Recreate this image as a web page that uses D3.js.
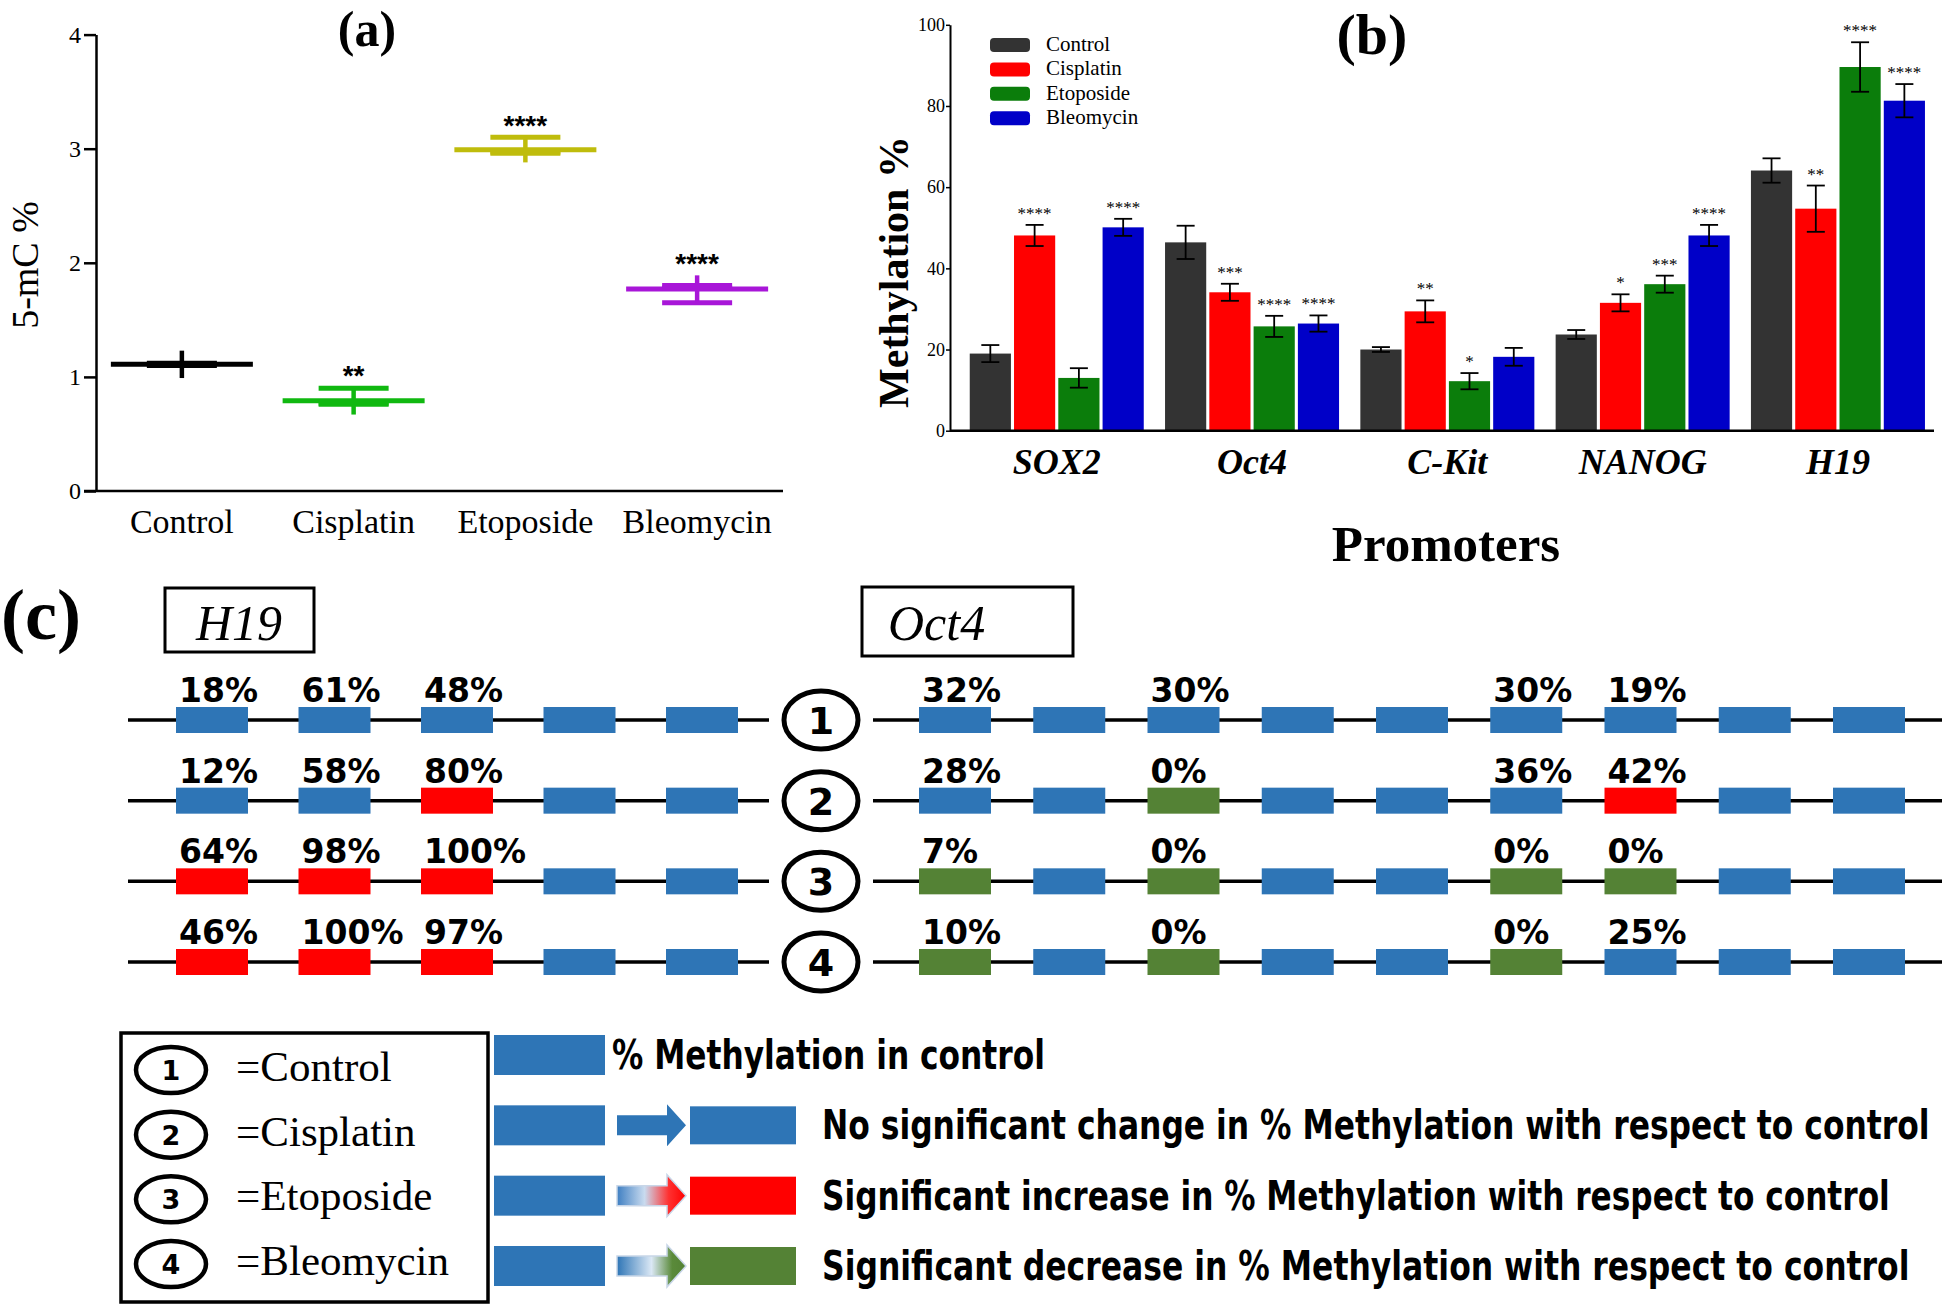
<!DOCTYPE html>
<html>
<head>
<meta charset="utf-8">
<script src="https://d3js.org/d3.v7.min.js"></script>
<style>
  body { margin: 0; background: #fff; }
  svg { display: block; }
</style>
</head>
<body>
<script>
// ---------- data: panel (a) 5-mC %
let groupsA = ["Control", "Cisplatin", "Etoposide", "Bleomycin"];
let meanA = [1.11, 0.79, 2.99, 1.77];
let sdA = [0.12, 0.12, 0.11, 0.12];
let repsA = [[1.12, 1.11, 1.10], [0.90, 0.77, 0.76], [3.10, 2.97, 2.96], [1.80, 1.78, 1.65]];
let starsA = ["", "**", "****", "****"];
let colorsA = ["#000000", "#10b810", "#bfbc0c", "#a816d8"];
let ticksA = [0, 1, 2, 3, 4];

// ---------- data: panel (b) methylation % of promoters
let promoters = ["SOX2", "Oct4", "C-Kit", "NANOG", "H19"];
let treatments = ["Control", "Cisplatin", "Etoposide", "Bleomycin"];
let methControl   = [19.0, 46.4, 20.0, 23.7, 64.1];
let methCisplatin = [48.1, 34.1, 29.4, 31.5, 54.7];
let methEtoposide = [13.0, 25.7, 12.2, 36.1, 89.6];
let methBleomycin = [50.1, 26.4, 18.2, 48.1, 81.3];
let errControl   = [2.1, 4.1, 0.6, 1.1, 3.0];
let errCisplatin = [2.6, 2.1, 2.7, 2.1, 5.7];
let errEtoposide = [2.4, 2.6, 2.0, 2.1, 6.1];
let errBleomycin = [2.1, 2.0, 2.2, 2.6, 4.1];
let starsControl   = ["", "", "", "", ""];
let starsCisplatin = ["****", "***", "**", "*", "**"];
let starsEtoposide = ["", "****", "*", "***", "****"];
let starsBleomycin = ["****", "****", "", "****", "****"];
let colorsB = ["#333333", "#ff0000", "#0b7d0b", "#0000c8"];
let ticksB = [0, 20, 40, 60, 80, 100];

// ---------- data: panel (c) CpG maps
let rowNumbers = ["1", "2", "3", "4"];
let h19Labels = [
  ["18%", "61%", "48%", "", ""],
  ["12%", "58%", "80%", "", ""],
  ["64%", "98%", "100%", "", ""],
  ["46%", "100%", "97%", "", ""]
];
let h19Status = [
  ["n", "n", "n", "n", "n"],
  ["n", "n", "up", "n", "n"],
  ["up", "up", "up", "n", "n"],
  ["up", "up", "up", "n", "n"]
];
let oct4Labels = [
  ["32%", "", "30%", "", "", "30%", "19%", "", ""],
  ["28%", "", "0%", "", "", "36%", "42%", "", ""],
  ["7%", "", "0%", "", "", "0%", "0%", "", ""],
  ["10%", "", "0%", "", "", "0%", "25%", "", ""]
];
let oct4Status = [
  ["n", "n", "n", "n", "n", "n", "n", "n", "n"],
  ["n", "n", "down", "n", "n", "n", "up", "n", "n"],
  ["down", "n", "down", "n", "n", "down", "down", "n", "n"],
  ["down", "n", "down", "n", "n", "down", "n", "n", "n"]
];
let keyStatus = ["ctrl", "n", "up", "down"];
let keyTexts = [
  "% Methylation in control",
  "No significant change in % Methylation with respect to control",
  "Significant increase in % Methylation with respect to control",
  "Significant decrease in % Methylation with respect to control"
];
let statusColor = { n: "#2e75b6", ctrl: "#2e75b6", up: "#ff0000", down: "#548235" };

const serif = "'Liberation Serif', 'Times New Roman', serif";
const sans = "'DejaVu Sans', 'Liberation Sans', sans-serif";

let svg = d3.select("body").append("svg")
    .attr("width", 1946)
    .attr("height", 1304);

// ================= panel (a) =================
let yA = d3.scaleLinear().domain([0, 4]).range([491, 34.6]);
let xA = d3.scaleBand().domain(groupsA).range([96, 783]);

let gA = svg.append("g");
let axA = gA.append("g")
    .attr("transform", "translate(96,0)")
    .call(d3.axisLeft(yA).tickValues(ticksA).tickFormat(d3.format("d")).tickSize(12).tickSizeOuter(0).tickPadding(3));
axA.select(".domain").attr("stroke-width", 2.5);
axA.selectAll(".tick line").attr("stroke-width", 2.5);
axA.selectAll(".tick text").style("font-family", serif).style("font-size", "24px").attr("fill", "#000");

gA.append("line")
    .attr("x1", 84).attr("x2", 783)
    .attr("y1", yA(0)).attr("y2", yA(0))
    .attr("stroke", "#000").attr("stroke-width", 2.5);

gA.selectAll(".catA")
    .data(groupsA)
    .join("text")
    .attr("x", d => xA(d) + xA.bandwidth() / 2)
    .attr("y", 533)
    .attr("text-anchor", "middle")
    .style("font-family", serif).style("font-size", "34px")
    .text(d => d);

groupsA.forEach((g, i) => {
    let cx = xA(g) + xA.bandwidth() / 2;
    let col = colorsA[i];
    gA.append("line")
        .attr("x1", cx).attr("x2", cx)
        .attr("y1", yA(meanA[i] - sdA[i])).attr("y2", yA(meanA[i] + sdA[i]))
        .attr("stroke", col).attr("stroke-width", 4.5);
    gA.append("line")
        .attr("x1", cx - 71).attr("x2", cx + 71)
        .attr("y1", yA(meanA[i])).attr("y2", yA(meanA[i]))
        .attr("stroke", col).attr("stroke-width", 5);
    repsA[i].forEach(v => {
        gA.append("line")
            .attr("x1", cx - 35).attr("x2", cx + 35)
            .attr("y1", yA(v)).attr("y2", yA(v))
            .attr("stroke", col).attr("stroke-width", 5);
    });
    if (starsA[i]) {
        gA.append("text")
            .attr("x", cx).attr("y", yA(meanA[i] + sdA[i]) - 2)
            .attr("text-anchor", "middle")
            .style("font-family", "'Liberation Sans', Arial, sans-serif")
            .style("font-size", "28px").style("font-weight", "bold")
            .text(starsA[i]);
    }
});

gA.append("text")
    .attr("x", 367).attr("y", 46)
    .attr("text-anchor", "middle")
    .style("font-family", serif).style("font-size", "50px").style("font-weight", "bold")
    .text("(a)");

gA.append("text")
    .attr("transform", "translate(38,265) rotate(-90)")
    .attr("text-anchor", "middle")
    .style("font-family", serif).style("font-size", "38px")
    .text("5-mC %");

// ================= panel (b) =================
let yB = d3.scaleLinear().domain([0, 100]).range([430.7, 24.8]);
let x0 = d3.scaleBand().domain(promoters).range([959, 1935.7]).paddingInner(0.109).paddingOuter(0.055);
let x1 = d3.scaleBand().domain(treatments).range([0, x0.bandwidth()]).paddingInner(0.07);

let seriesB = [
    { name: "Control", vals: methControl, err: errControl, stars: starsControl },
    { name: "Cisplatin", vals: methCisplatin, err: errCisplatin, stars: starsCisplatin },
    { name: "Etoposide", vals: methEtoposide, err: errEtoposide, stars: starsEtoposide },
    { name: "Bleomycin", vals: methBleomycin, err: errBleomycin, stars: starsBleomycin }
];

let gB = svg.append("g");
seriesB.forEach((s, si) => {
    promoters.forEach((p, pi) => {
        let x = x0(p) + x1(s.name);
        let cx = x + x1.bandwidth() / 2;
        let v = s.vals[pi], e = s.err[pi];
        gB.append("rect")
            .attr("x", x).attr("y", yB(v))
            .attr("width", x1.bandwidth()).attr("height", yB(0) - yB(v))
            .attr("fill", colorsB[si]);
        gB.append("line")
            .attr("x1", cx).attr("x2", cx)
            .attr("y1", yB(v - e)).attr("y2", yB(v + e))
            .attr("stroke", "#000").attr("stroke-width", 1.8);
        [v - e, v + e].forEach(t => {
            gB.append("line")
                .attr("x1", cx - 9).attr("x2", cx + 9)
                .attr("y1", yB(t)).attr("y2", yB(t))
                .attr("stroke", "#000").attr("stroke-width", 1.8);
        });
        if (s.stars[pi]) {
            gB.append("text")
                .attr("x", cx).attr("y", yB(v + e) - 6)
                .attr("text-anchor", "middle")
                .style("font-family", serif).style("font-size", "17px")
                .text(s.stars[pi]);
        }
    });
});

let axB = gB.append("g")
    .attr("transform", "translate(950,0)")
    .call(d3.axisLeft(yB).tickValues(ticksB).tickSize(4).tickSizeOuter(0).tickPadding(1));
axB.select(".domain").attr("stroke-width", 2);
axB.selectAll(".tick line").attr("stroke-width", 1.5);
axB.selectAll(".tick text").style("font-family", serif).style("font-size", "18px").attr("fill", "#000");

gB.append("line")
    .attr("x1", 950).attr("x2", 1934)
    .attr("y1", yB(0)).attr("y2", yB(0))
    .attr("stroke", "#000").attr("stroke-width", 2.5);

gB.selectAll(".catB")
    .data(promoters)
    .join("text")
    .attr("x", d => x0(d) + x0.bandwidth() / 2)
    .attr("y", 474)
    .attr("text-anchor", "middle")
    .style("font-family", serif).style("font-size", "36px")
    .style("font-weight", "bold").style("font-style", "italic")
    .text(d => d);

gB.append("text")
    .attr("x", 1446).attr("y", 561)
    .attr("text-anchor", "middle")
    .style("font-family", serif).style("font-size", "51px").style("font-weight", "bold")
    .text("Promoters");

gB.append("text")
    .attr("transform", "translate(908,272) rotate(-90)")
    .attr("text-anchor", "middle")
    .style("font-family", serif).style("font-size", "42px").style("font-weight", "bold")
    .text("Methylation %");

gB.append("text")
    .attr("x", 1372).attr("y", 54)
    .attr("text-anchor", "middle")
    .style("font-family", serif).style("font-size", "58px").style("font-weight", "bold")
    .text("(b)");

let legB = gB.selectAll(".legB")
    .data(treatments)
    .join("g")
    .attr("transform", (d, i) => "translate(990," + (38 + i * 24.4) + ")");
legB.append("rect")
    .attr("width", 40).attr("height", 14).attr("rx", 4)
    .attr("fill", (d, i) => colorsB[i]);
legB.append("text")
    .attr("x", 56).attr("y", 13)
    .style("font-family", serif).style("font-size", "21px")
    .text(d => d);

// ================= panel (c) =================
let gC = svg.append("g");

gC.append("text")
    .attr("x", 1).attr("y", 639)
    .style("font-family", serif).style("font-size", "72px").style("font-weight", "bold")
    .text("(c)");

gC.append("rect").attr("x", 165).attr("y", 588).attr("width", 149).attr("height", 64)
    .attr("fill", "none").attr("stroke", "#000").attr("stroke-width", 3);
gC.append("text").attr("x", 239).attr("y", 640).attr("text-anchor", "middle")
    .style("font-family", serif).style("font-size", "50px").style("font-style", "italic")
    .text("H19");

gC.append("rect").attr("x", 862).attr("y", 587).attr("width", 211).attr("height", 69)
    .attr("fill", "none").attr("stroke", "#000").attr("stroke-width", 3);
gC.append("text").attr("x", 888).attr("y", 640)
    .style("font-family", serif).style("font-size", "50px").style("font-style", "italic")
    .text("Oct4");

let rowY = d3.scalePoint().domain(treatments).range([720, 962]);

let genes = [
    { labels: h19Labels, status: h19Status, sites: [212, 702], line: [128, 769] },
    { labels: oct4Labels, status: oct4Status, sites: [955, 1869], line: [873, 1942] }
];

genes.forEach(gene => {
    let n = gene.status[0].length;
    let xs = d3.scalePoint().domain(d3.range(n)).range(gene.sites);
    treatments.forEach((t, r) => {
        let y = rowY(t);
        gC.append("line")
            .attr("x1", gene.line[0]).attr("x2", gene.line[1])
            .attr("y1", y).attr("y2", y)
            .attr("stroke", "#000").attr("stroke-width", 3.5);
        gene.status[r].forEach((st, k) => {
            let bx = xs(k) - 36;
            gC.append("rect")
                .attr("x", bx).attr("y", y - 13)
                .attr("width", 72).attr("height", 26)
                .attr("fill", statusColor[st]);
            if (gene.labels[r][k]) {
                gC.append("text")
                    .attr("x", bx + 3).attr("y", y - 18)
                    .style("font-family", sans).style("font-size", "33px").style("font-weight", "bold")
                    .text(gene.labels[r][k]);
            }
        });
    });
});

// numbered ellipses between the two maps
rowNumbers.forEach((num, r) => {
    let y = rowY(treatments[r]);
    gC.append("ellipse")
        .attr("cx", 821).attr("cy", y).attr("rx", 37).attr("ry", 29)
        .attr("fill", "#fff").attr("stroke", "#000").attr("stroke-width", 5);
    gC.append("text")
        .attr("x", 821).attr("y", y + 14)
        .attr("text-anchor", "middle")
        .style("font-family", sans).style("font-size", "38px").style("font-weight", "bold")
        .text(num);
});

// ---- key box
gC.append("rect").attr("x", 121).attr("y", 1033).attr("width", 367).attr("height", 269)
    .attr("fill", "none").attr("stroke", "#000").attr("stroke-width", 3.5);

let keyY = d3.scalePoint().domain(treatments).range([1070, 1264]);
treatments.forEach((t, r) => {
    let y = keyY(t);
    gC.append("ellipse")
        .attr("cx", 171).attr("cy", y).attr("rx", 35).attr("ry", 23)
        .attr("fill", "none").attr("stroke", "#000").attr("stroke-width", 4.5);
    gC.append("text")
        .attr("x", 171).attr("y", y + 10)
        .attr("text-anchor", "middle")
        .style("font-family", sans).style("font-size", "27px").style("font-weight", "bold")
        .text(rowNumbers[r]);
    gC.append("text")
        .attr("x", 236).attr("y", y + 11)
        .style("font-family", serif).style("font-size", "43px")
        .text("=" + t);
});

// ---- colour key
let defs = svg.append("defs");
let gradUp = defs.append("linearGradient").attr("id", "gradUp");
gradUp.append("stop").attr("offset", "0%").attr("stop-color", "#3f7fc2");
gradUp.append("stop").attr("offset", "40%").attr("stop-color", "#c9dbef");
gradUp.append("stop").attr("offset", "75%").attr("stop-color", "#ff3030");
gradUp.append("stop").attr("offset", "100%").attr("stop-color", "#ff0000");
let gradDown = defs.append("linearGradient").attr("id", "gradDown");
gradDown.append("stop").attr("offset", "0%").attr("stop-color", "#2e75b6");
gradDown.append("stop").attr("offset", "50%").attr("stop-color", "#dbe8f5");
gradDown.append("stop").attr("offset", "80%").attr("stop-color", "#5a8a3a");
gradDown.append("stop").attr("offset", "100%").attr("stop-color", "#548235");

let arrowFill = { n: "#2e75b6", up: "url(#gradUp)", down: "url(#gradDown)" };
let keyRowY = d3.scalePoint().domain(keyStatus).range([1055, 1266]);
let keyWidths = [433, 1108, 1068, 1088];

keyStatus.forEach((st, r) => {
    let y = keyRowY(st);
    gC.append("rect")
        .attr("x", 494).attr("y", y - 20)
        .attr("width", 111).attr("height", 40)
        .attr("fill", statusColor.ctrl);
    let tx = 612;
    if (st !== "ctrl") {
        let path = d3.path();
        path.moveTo(617, y - 10);
        path.lineTo(667, y - 10);
        path.lineTo(667, y - 21);
        path.lineTo(686, y);
        path.lineTo(667, y + 21);
        path.lineTo(667, y + 10);
        path.lineTo(617, y + 10);
        path.closePath();
        gC.append("path")
            .attr("d", path.toString())
            .attr("fill", arrowFill[st])
            .attr("stroke", st === "n" ? "none" : "#c8d6e8").attr("stroke-width", 1.5);
        gC.append("rect")
            .attr("x", 690).attr("y", y - 19)
            .attr("width", 106).attr("height", 38)
            .attr("fill", statusColor[st]);
        tx = 822;
    }
    // squeeze the text horizontally to the width it has in the figure
    let t = gC.append("text")
        .style("font-family", sans).style("font-size", "40px").style("font-weight", "bold")
        .text(keyTexts[r]);
    let w = t.node().getComputedTextLength();
    t.attr("transform", "translate(" + tx + "," + (y + 14) + ") scale(" + (keyWidths[r] / w) + ",1)");
});
</script>
</body>
</html>
